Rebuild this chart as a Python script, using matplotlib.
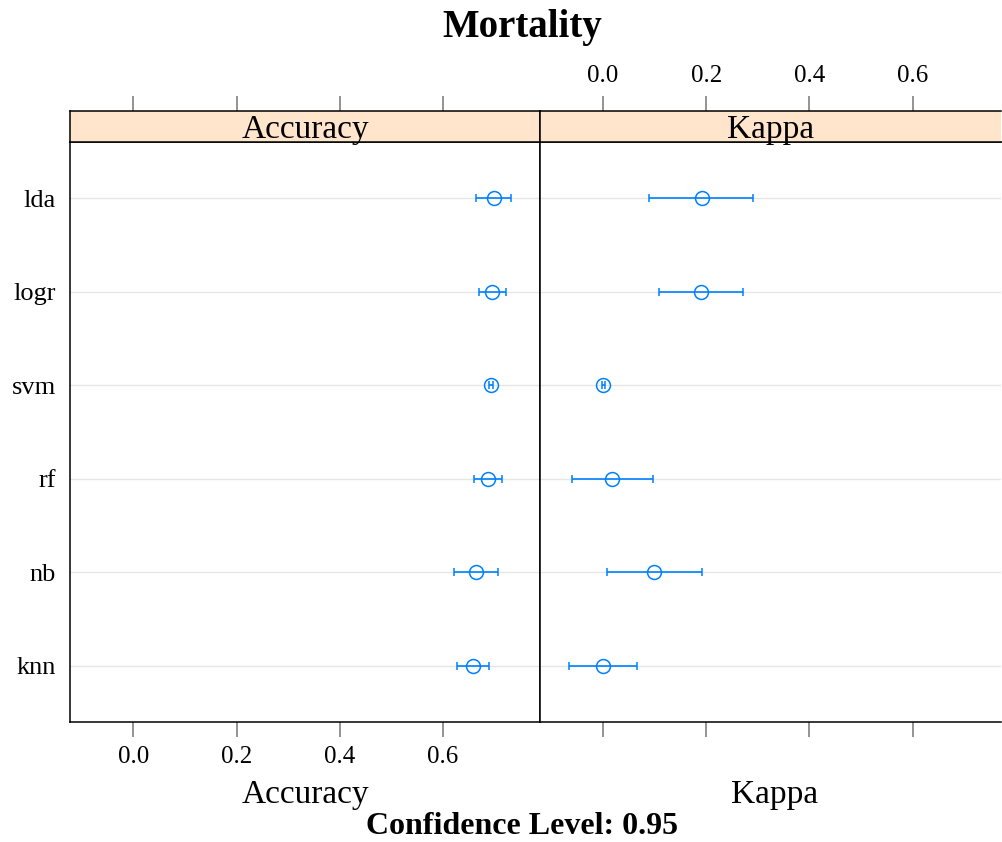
import numpy as np
import matplotlib.pyplot as plt

plt.rcParams['font.family'] = ['Liberation Serif', 'DejaVu Serif']

models = ['knn', 'nb', 'rf', 'svm', 'logr', 'lda']

acc_mid = [0.659, 0.664, 0.688, 0.693, 0.695, 0.699]
acc_lo = [0.628, 0.622, 0.660, 0.690, 0.670, 0.664]
acc_hi = [0.690, 0.706, 0.715, 0.696, 0.722, 0.732]

kap_mid = [0.000, 0.099, 0.018, 0.001, 0.190, 0.191]
kap_lo = [-0.066, 0.007, -0.060, -0.002, 0.108, 0.090]
kap_hi = [0.066, 0.191, 0.096, 0.004, 0.271, 0.290]

ticks = [0.0, 0.2, 0.4, 0.6]
blue = '#0080ff'
W, H = 1002, 842

fig = plt.figure(figsize=(W / 100, H / 100), dpi=100)


def px(x0, y0, x1, y1):
    return [x0 / W, 1 - y1 / H, (x1 - x0) / W, (y1 - y0) / H]


panels = [
    ('Accuracy', acc_mid, acc_lo, acc_hi, (70, 540), (-0.123, 0.788), False),
    ('Kappa', kap_mid, kap_lo, kap_hi, (540, 1001), (-0.122, 0.771), True),
]

y = np.arange(1, len(models) + 1)
for i, (name, mid, lo, hi, (x0, x1), xlim, top_labels) in enumerate(panels):
    ax = fig.add_axes(px(x0, 142, x1, 722))
    for yy in y:
        ax.axhline(yy, color='#e6e6e6', lw=1, zorder=0)
    mid = np.array(mid)
    err = [mid - np.array(lo), np.array(hi) - mid]
    ax.errorbar(mid, y, xerr=err, fmt='o', mfc='none', mec=blue, ms=10,
                mew=1.1, ecolor=blue, elinewidth=1.2, capsize=3, capthick=1.2)
    ax.set_xlim(*xlim)
    ax.set_ylim(0.4, 6.6)
    ax.set_xticks(ticks)
    ax.tick_params(axis='x', direction='out', length=11, width=1.2,
                   color='#808080', labelsize=18, pad=6,
                   labelbottom=not top_labels)
    if i == 0:
        ax.set_yticks(y)
        ax.set_yticklabels(models, fontsize=19)
        ax.tick_params(axis='y', length=0, pad=10)
    else:
        ax.set_yticks([])
        ax.spines['right'].set_visible(False)
    for s in ax.spines.values():
        s.set_linewidth(1.1)
    fig.text((x0 + 235) / W, 1 - 795 / H, name, ha='center', va='center',
             fontsize=24)

    # strip header with the top ticks above it
    st = fig.add_axes(px(x0, 111, x1, 142))
    st.set_facecolor('#ffe5cc')
    st.set_xlim(*xlim)
    st.set_ylim(0, 1)
    st.set_yticks([])
    st.set_xticks(ticks)
    st.xaxis.tick_top()
    st.tick_params(axis='x', direction='out', length=11, width=1.2,
                   color='#808080', labelsize=18, pad=6,
                   labeltop=top_labels, labelbottom=False, bottom=False)
    st.text(0.5, 0.4, name, transform=st.transAxes, ha='center',
            va='center', fontsize=24)
    for s in st.spines.values():
        s.set_linewidth(1.1)
    if i == 1:
        st.spines['right'].set_visible(False)

fig.text(522 / W, 1 - 27 / H, 'Mortality', ha='center', va='center',
         fontsize=28, fontweight='bold')
fig.text(522 / W, 1 - 826 / H, 'Confidence Level: 0.95', ha='center',
         va='center', fontsize=23, fontweight='bold')

fig.savefig('out.png', dpi=100)
